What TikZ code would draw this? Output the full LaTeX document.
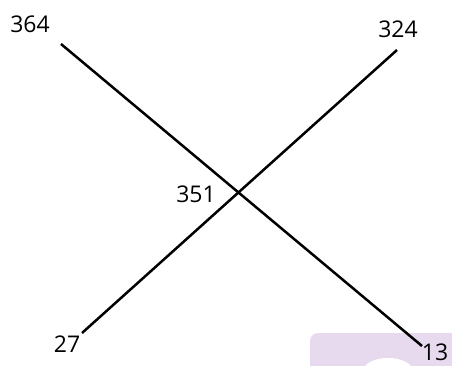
\documentclass[tikz,border=0pt]{standalone}
\usepackage{fontspec}
\setmainfont{Open Sans}
\usetikzlibrary{positioning}
\definecolor{wmpurple}{RGB}{232,218,238}
\begin{document}
\begin{tikzpicture}[x=1pt,y=-1pt]

	% 定义样式
	\tikzset{
		num/.style = {
			font=\fontsize{23}{27}\selectfont,
			inner sep=0pt
		},
		cross line/.style = {
			line width=2.5pt
		}
	}

	\useasboundingbox (0,0) rectangle (452,365);

	% 水印
	\fill[wmpurple, rounded corners=8pt] (310,333) rectangle (480,390);
	\fill[white] (388,370) ellipse (24 and 12);

	% 端点
	\coordinate (p364) at (61,44);
	\coordinate (p13) at (422,346);
	\coordinate (p324) at (397,50);
	\coordinate (p27) at (82,333);

	% 两条直线
	\draw[cross line] (p364) -- (p13);
	\draw[cross line] (p324) -- (p27);

	% 数字
	\node[num] (n364) at (30,24) {364};
	\node[num] (n324) at (398,29) {324};
	\node[num] (n351) at (196,194) {351};
	\node[num] (n27) at (67,344) {27};
	\node[num] (n13) at (435,352) {13};

\end{tikzpicture}
\end{document}
